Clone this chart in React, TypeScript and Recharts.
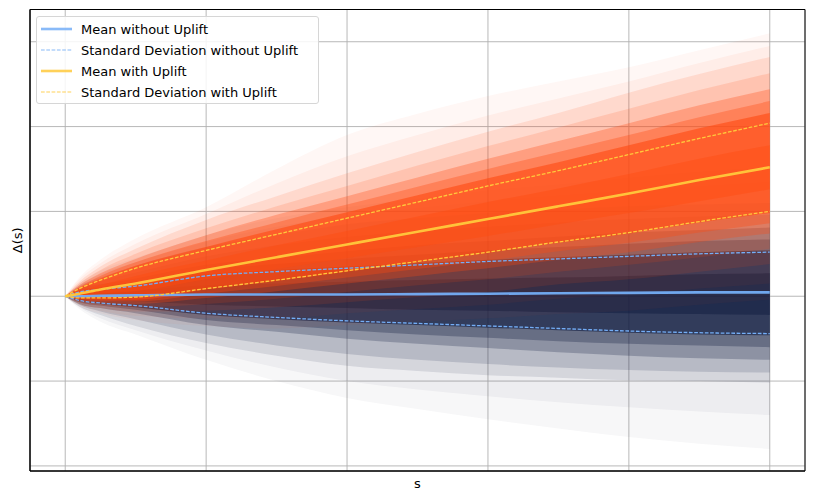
import React from 'react';
import { ComposedChart, Area, Line, XAxis, YAxis, CartesianGrid, ReferenceArea, Legend, Label } from 'recharts';

const S = [0, 2, 5, 10, 20, 30, 40, 50, 60, 70, 80, 90, 100];
const X_TICKS = [0, 20, 40, 60, 80, 100];
const Y_TICKS = [-2, -1, 0, 1, 2, 3];

// summary lines
const meanWithout = [0, 0.0, 0.005, 0.01, 0.02, 0.02, 0.02, 0.025, 0.03, 0.035, 0.04, 0.045, 0.045];
const sdWithoutHi = [0, 0.05, 0.08, 0.12, 0.24, 0.29, 0.33, 0.37, 0.41, 0.44, 0.47, 0.5, 0.52];
const sdWithoutLo = [0, -0.05, -0.08, -0.11, -0.2, -0.25, -0.29, -0.32, -0.35, -0.38, -0.41, -0.43, -0.44];
const meanWith = [0, 0.03, 0.08, 0.15, 0.31, 0.46, 0.61, 0.76, 0.91, 1.06, 1.21, 1.37, 1.52];
const sdWithHi = [0, 0.09, 0.19, 0.33, 0.54, 0.73, 0.92, 1.11, 1.3, 1.48, 1.67, 1.86, 2.04];
const sdWithLo = [0, -0.02, -0.02, -0.01, 0.09, 0.19, 0.3, 0.41, 0.52, 0.64, 0.75, 0.88, 1.0];

// path cloud without uplift: envelopes (outer -> inner)
const navyLo1 = [0, -0.15, -0.3, -0.45, -0.75, -1.0, -1.2, -1.33, -1.45, -1.56, -1.66, -1.74, -1.8];
const navyHi1 = [0, 0.15, 0.3, 0.45, 0.72, 0.92, 1.05, 1.15, 1.25, 1.32, 1.4, 1.47, 1.52];
const navyLo2 = [0, -0.13, -0.26, -0.4, -0.64, -0.84, -1.0, -1.1, -1.18, -1.25, -1.31, -1.36, -1.4];
const navyHi2 = [0, 0.13, 0.26, 0.4, 0.64, 0.82, 0.95, 1.04, 1.12, 1.19, 1.25, 1.3, 1.35];
const navyLo3 = [0, -0.12, -0.22, -0.35, -0.55, -0.7, -0.82, -0.88, -0.93, -0.96, -0.99, -1.0, -1.02];
const navyHi3 = [0, 0.12, 0.22, 0.36, 0.58, 0.72, 0.85, 0.92, 0.98, 1.02, 1.06, 1.08, 1.1];
const navyLo4 = [0, -0.1, -0.18, -0.27, -0.45, -0.58, -0.68, -0.75, -0.8, -0.84, -0.87, -0.89, -0.9];
const navyHi4 = [0, 0.1, 0.18, 0.28, 0.47, 0.6, 0.7, 0.77, 0.82, 0.87, 0.91, 0.94, 0.96];
const navyLo5 = [0, -0.09, -0.14, -0.2, -0.34, -0.42, -0.5, -0.56, -0.61, -0.66, -0.7, -0.73, -0.75];
const navyHi5 = [0, 0.09, 0.14, 0.21, 0.37, 0.45, 0.53, 0.6, 0.65, 0.7, 0.75, 0.78, 0.81];
const navyLo6 = [0, -0.07, -0.11, -0.16, -0.28, -0.34, -0.4, -0.45, -0.49, -0.53, -0.56, -0.58, -0.6];
const navyHi6 = [0, 0.07, 0.11, 0.17, 0.31, 0.38, 0.44, 0.49, 0.54, 0.58, 0.62, 0.65, 0.67];
const navyLo7 = [0, -0.06, -0.09, -0.13, -0.22, -0.27, -0.31, -0.34, -0.37, -0.4, -0.43, -0.45, -0.46];
const navyHi7 = [0, 0.06, 0.09, 0.14, 0.26, 0.31, 0.35, 0.39, 0.43, 0.46, 0.49, 0.52, 0.54];
const navyLo8 = [0, -0.03, -0.04, -0.06, -0.1, -0.12, -0.14, -0.16, -0.17, -0.19, -0.2, -0.21, -0.22];
const navyHi8 = [0, 0.03, 0.05, 0.07, 0.13, 0.15, 0.17, 0.19, 0.21, 0.22, 0.24, 0.26, 0.27];

// path cloud with uplift: envelopes (outer -> inner)
const orangeLo1 = [0, -0.12, -0.2, -0.28, -0.35, -0.38, -0.34, -0.3, -0.26, -0.21, -0.17, -0.1, -0.04];
const orangeHi1 = [0, 0.22, 0.43, 0.68, 1.05, 1.5, 1.9, 2.15, 2.36, 2.53, 2.7, 2.9, 3.1];
const orangeLo2 = [0, -0.1, -0.17, -0.23, -0.26, -0.26, -0.2, -0.15, -0.1, -0.03, 0.02, 0.09, 0.15];
const orangeHi2 = [0, 0.2, 0.39, 0.62, 0.97, 1.33, 1.65, 1.9, 2.13, 2.33, 2.53, 2.75, 2.95];
const orangeLo3 = [0, -0.09, -0.14, -0.18, -0.17, -0.13, -0.07, -0.01, 0.05, 0.14, 0.2, 0.29, 0.38];
const orangeHi3 = [0, 0.17, 0.35, 0.56, 0.9, 1.18, 1.45, 1.7, 1.94, 2.16, 2.4, 2.62, 2.82];
const orangeLo4 = [0, -0.07, -0.11, -0.13, -0.09, -0.03, 0.05, 0.13, 0.2, 0.29, 0.37, 0.46, 0.56];
const orangeHi4 = [0, 0.15, 0.31, 0.5, 0.8, 1.06, 1.3, 1.54, 1.77, 1.99, 2.21, 2.43, 2.63];
const orangeLo5 = [0, -0.06, -0.08, -0.09, -0.02, 0.06, 0.15, 0.24, 0.33, 0.43, 0.52, 0.64, 0.74];
const orangeHi5 = [0, 0.13, 0.27, 0.44, 0.72, 0.96, 1.18, 1.4, 1.62, 1.83, 2.04, 2.25, 2.44];
const orangeLo6 = [0, -0.04, -0.06, -0.06, 0.03, 0.12, 0.22, 0.32, 0.42, 0.53, 0.63, 0.75, 0.86];
const orangeHi6 = [0, 0.11, 0.24, 0.4, 0.65, 0.87, 1.08, 1.29, 1.5, 1.7, 1.9, 2.11, 2.3];
const orangeLo7 = [0, -0.03, -0.04, -0.04, 0.08, 0.18, 0.29, 0.4, 0.51, 0.63, 0.74, 0.87, 0.98];
const orangeHi7 = [0, 0.1, 0.21, 0.36, 0.58, 0.79, 0.99, 1.19, 1.39, 1.58, 1.78, 1.98, 2.16];
const orangeLo8 = [0, 0.0, 0.03, 0.06, 0.2, 0.32, 0.45, 0.58, 0.71, 0.85, 0.98, 1.12, 1.26];
const orangeHi8 = [0, 0.06, 0.13, 0.24, 0.42, 0.6, 0.77, 0.94, 1.11, 1.27, 1.44, 1.62, 1.78];

const LEGEND_LABELS = [
  'Mean without Uplift',
  'Standard Deviation without Uplift',
  'Mean with Uplift',
  'Standard Deviation with Uplift',
];

const navyLo = [navyLo1, navyLo2, navyLo3, navyLo4, navyLo5, navyLo6, navyLo7, navyLo8];
const navyHi = [navyHi1, navyHi2, navyHi3, navyHi4, navyHi5, navyHi6, navyHi7, navyHi8];
const orangeLo = [orangeLo1, orangeLo2, orangeLo3, orangeLo4, orangeLo5, orangeLo6, orangeLo7, orangeLo8];
const orangeHi = [orangeHi1, orangeHi2, orangeHi3, orangeHi4, orangeHi5, orangeHi6, orangeHi7, orangeHi8];

const data = S.map((s, i) => {
  const row: any = {
    s,
    m0: meanWithout[i],
    u0: sdWithoutHi[i],
    l0: sdWithoutLo[i],
    m1: meanWith[i],
    u1: sdWithHi[i],
    l1: sdWithLo[i],
  };
  navyLo.forEach((lo, k) => {
    row['n' + k] = [lo[i], navyHi[k][i]];
  });
  orangeLo.forEach((lo, k) => {
    row['o' + k] = [lo[i], orangeHi[k][i]];
  });
  return row;
});

const NAVY = '#0f1b40';
const ORANGE = '#ff4a10';
const BLUE = '#74aef7';
const GOLD = '#ffc93c';
const FONT = '"DejaVu Sans", sans-serif';

const navyOpacity = [0.035, 0.045, 0.11, 0.15, 0.25, 0.3, 0.6, 0.5];
const orangeOpacity = [0.045, 0.055, 0.12, 0.15, 0.3, 0.35, 0.6, 0.4];

const legendStyles = [
  { color: BLUE, width: 2.6, dash: undefined },
  { color: BLUE, width: 1.1, dash: '3.7 1.6' },
  { color: GOLD, width: 2.6, dash: undefined },
  { color: GOLD, width: 1.1, dash: '3.7 1.6' },
];

const LegendBox = () => (
  <div
    style={{
      position: 'relative',
      width: 283,
      height: 88,
      border: '1px solid #d6d6d6',
      borderRadius: 3,
      background: 'rgba(255,255,255,0.85)',
      boxSizing: 'border-box',
    }}
  >
    {LEGEND_LABELS.map((label, i) => (
      <div
        key={label}
        style={{
          position: 'absolute',
          left: 0,
          top: 1.5 + i * 21,
          height: 21,
          display: 'flex',
          alignItems: 'center',
        }}
      >
        <svg width={32} height={10} style={{ marginLeft: 4 }}>
          <line
            x1={0}
            x2={31}
            y1={5}
            y2={5}
            stroke={legendStyles[i].color}
            strokeWidth={legendStyles[i].width}
            strokeDasharray={legendStyles[i].dash}
            strokeOpacity={0.85}
          />
        </svg>
        <span style={{ marginLeft: 8, fontFamily: FONT, fontSize: 13, color: '#000', whiteSpace: 'nowrap' }}>
          {label}
        </span>
      </div>
    ))}
  </div>
);

const YLabel = (props: any) => {
  const vb = props.viewBox || { x: 0, y: 1, width: 22, height: 462 };
  const cx = 9;
  const cy = (vb.y ?? 1) + (vb.height ?? 462) / 2;
  return (
    <text
      x={cx}
      y={cy}
      transform={`rotate(-90, ${cx}, ${cy})`}
      textAnchor="middle"
      dominantBaseline="central"
      fontSize={13}
      fontFamily={FONT}
      fill="#000"
    >
      Δ(s)
    </text>
  );
};

const EmptyTick = (p: any) => <g key={p && p.index} />;

export default function App() {
  return (
    <div style={{ width: 798, height: 485, position: 'relative', background: '#fff' }}>
      <ComposedChart width={798} height={485} data={data} margin={{ top: 1.5, right: 1, bottom: 0, left: 0 }}>
        <CartesianGrid stroke="#b0b0b0" strokeWidth={0.9} />
        <XAxis
          dataKey="s"
          type="number"
          domain={[-5, 105]}
          ticks={X_TICKS}
          interval={0}
          tick={EmptyTick}
          tickLine={false}
          axisLine={{ stroke: '#000', strokeWidth: 1 }}
          height={22}
          allowDataOverflow
        >
          <Label value="s" position="insideBottom" offset={5} fontSize={13} fontFamily={FONT} fill="#000" />
        </XAxis>
        <YAxis
          type="number"
          domain={[-2.06, 3.38]}
          ticks={Y_TICKS}
          interval={0}
          tick={EmptyTick}
          tickLine={false}
          axisLine={{ stroke: '#000', strokeWidth: 1 }}
          width={22}
          allowDataOverflow
          label={<YLabel />}
        />
        {navyOpacity.map((op, k) => (
          <Area
            key={'n' + k}
            dataKey={'n' + k}
            type="monotone"
            stroke="none"
            fill={NAVY}
            fillOpacity={op}
            isAnimationActive={false}
            activeDot={false}
            legendType="none"
          />
        ))}
        {orangeOpacity.map((op, k) => (
          <Area
            key={'o' + k}
            dataKey={'o' + k}
            type="monotone"
            stroke="none"
            fill={ORANGE}
            fillOpacity={op}
            isAnimationActive={false}
            activeDot={false}
            legendType="none"
          />
        ))}
        <Line dataKey="m0" type="monotone" stroke={BLUE} strokeOpacity={0.95} strokeWidth={2.6} dot={false} activeDot={false} isAnimationActive={false} />
        <Line dataKey="u0" type="monotone" stroke={BLUE} strokeWidth={1.3} strokeDasharray="3.7 1.6" dot={false} activeDot={false} isAnimationActive={false} />
        <Line dataKey="l0" type="monotone" stroke={BLUE} strokeWidth={1.3} strokeDasharray="3.7 1.6" dot={false} activeDot={false} isAnimationActive={false} />
        <Line dataKey="m1" type="monotone" stroke={GOLD} strokeOpacity={0.95} strokeWidth={2.6} dot={false} activeDot={false} isAnimationActive={false} />
        <Line dataKey="u1" type="monotone" stroke={GOLD} strokeWidth={1.3} strokeDasharray="3.7 1.6" dot={false} activeDot={false} isAnimationActive={false} />
        <Line dataKey="l1" type="monotone" stroke={GOLD} strokeWidth={1.3} strokeDasharray="3.7 1.6" dot={false} activeDot={false} isAnimationActive={false} />
        <ReferenceArea
          x1={-5}
          x2={105}
          y1={-2.06}
          y2={3.38}
          fill="none"
          stroke="#000"
          strokeWidth={1}
          ifOverflow="visible"
        />
        <Legend
          layout="horizontal"
          verticalAlign="middle"
          align="center"
          content={() => <LegendBox />}
          wrapperStyle={{ top: 8, left: 28, width: 284, height: 88 }}
        />
      </ComposedChart>
    </div>
  );
}
